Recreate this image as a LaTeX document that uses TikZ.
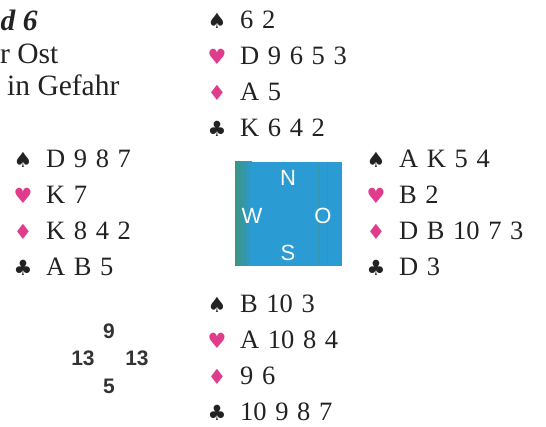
\documentclass[tikz,border=0pt]{standalone}
\usepackage{fontspec}
\setmainfont{Liberation Serif}
\setsansfont{Liberation Sans}
\newfontfamily\cardfont[WordSpace=1.3]{Liberation Serif}
\newfontfamily\symfont{DejaVu Sans}
\definecolor{cardblack}{HTML}{222222}
\definecolor{cardpink}{HTML}{E03C8C}
\definecolor{boxblue}{HTML}{2B9BD3}
\definecolor{boxgreen}{HTML}{3C9580}
\definecolor{numgray}{HTML}{333333}
\tikzset{
  cards/.style={anchor=base west, inner sep=0pt, text=cardblack, font=\cardfont\fontsize{26.5}{26.5}\selectfont},
  suitblack/.style={anchor=base, inner sep=0pt, text=cardblack, font=\symfont\fontsize{21}{21}\selectfont},
  suitpink/.style={anchor=base, inner sep=0pt, text=cardpink, font=\symfont\fontsize{21}{21}\selectfont},
  header/.style={anchor=base west, inner sep=0pt, text=cardblack, font=\fontsize{29.5}{29.5}\selectfont},
  compass/.style={anchor=center, inner sep=0pt, text=white, font=\sffamily\fontsize{22}{22}\selectfont},
  count/.style={anchor=center, inner sep=0pt, text=numgray, font=\sffamily\bfseries\fontsize{21}{21}\selectfont}
}
% #1 name, #2 symbol x, #3 first baseline, #4-#7 holdings
\newcommand\bhand[7]{%
  \node[suitblack] (#1s) at (#2,#3) {♠};
  \node[suitpink]  (#1h) at (#2,#3+35.8) {♥};
  \node[suitpink]  (#1d) at (#2,#3+71.6) {♦};
  \node[suitblack] (#1c) at (#2,#3+107.4) {♣};
  \node[cards] (#1S) at (#2+23,#3) {#4};
  \node[cards] (#1H) at (#2+23,#3+35.8) {#5};
  \node[cards] (#1D) at (#2+23,#3+71.6) {#6};
  \node[cards] (#1C) at (#2+23,#3+107.4) {#7};
}
\begin{document}
\begin{tikzpicture}[x=1pt,y=-1pt]
\useasboundingbox (0,0) rectangle (546,427);
% header
\node[header, font=\bfseries\itshape\fontsize{29.5}{29.5}\selectfont] (title) at (0.5,31) {d 6};
\node[header] (dealer) at (0,64) {r Ost};
\node[header] (vul) at (7,96) {in Gefahr};
% hands
\bhand{n}{217}{29}{6 2}{D 9 6 5 3}{A 5}{K 6 4 2}
\bhand{w}{23}{168}{D 9 8 7}{K 7}{K 8 4 2}{A B 5}
\bhand{e}{376}{168}{A K 5 4}{B 2}{D B 10 7 3}{D 3}
\bhand{s}{217}{313}{B 10 3}{A 10 8 4}{9 6}{10 9 8 7}
% compass box
\fill[boxblue] (235,162) rectangle (342,266);
\shade[left color=boxgreen, right color=boxblue] (235,162) rectangle (252,266);
\foreach \xx in {238,241,245} \draw[boxgreen!80!boxblue, line width=0.8pt] (\xx,162) -- (\xx,266);
\foreach \xx in {318,327} \draw[boxgreen!45!boxblue, line width=0.8pt] (\xx,162) -- (\xx,266);
\node[compass] (N) at (288,178) {N};
\node[compass] (W) at (252,216) {W};
\node[compass] (O) at (323,216) {O};
\node[compass] (S) at (288,253) {S};
% HCP counts
\node[count] (cn) at (109,331) {9};
\node[count] (cw) at (83,358) {13};
\node[count] (ce) at (137,358) {13};
\node[count] (cs) at (109,386) {5};
\end{tikzpicture}
\end{document}
